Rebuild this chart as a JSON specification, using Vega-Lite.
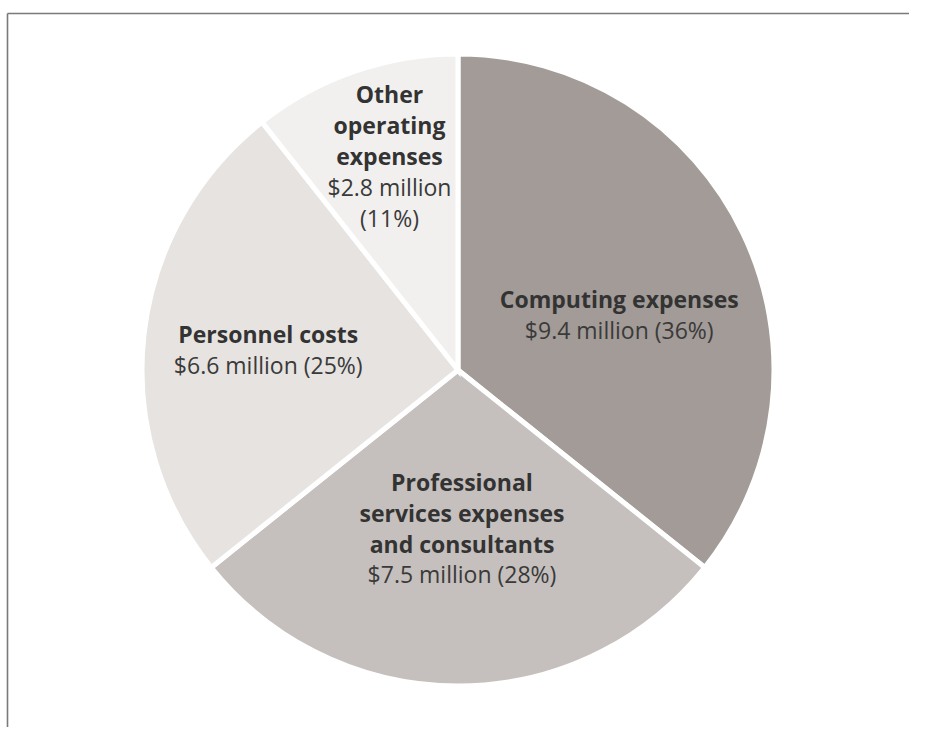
{
  "$schema": "https://vega.github.io/schema/vega-lite/v6.json",
  "width": 902,
  "height": 714,
  "autosize": {"type": "none"},
  "padding": {"left": 7, "top": 13, "right": 0, "bottom": 0},
  "background": "white",
  "config": {
    "view": {"stroke": null},
    "text": {"font": "Open Sans", "fontSize": 23, "align": "center", "baseline": "alphabetic", "lineHeight": 31}
  },
  "data": {
    "values": [
      {"category": "Computing expenses", "value": 9.4, "rank": 1, "title": ["Computing expenses"], "detail": ["$9.4 million (36%)"]},
      {"category": "Professional services expenses and consultants", "value": 7.5, "rank": 2, "title": ["Professional", "services expenses", "and consultants"], "detail": ["$7.5 million (28%)"]},
      {"category": "Personnel costs", "value": 6.6, "rank": 3, "title": ["Personnel costs"], "detail": ["$6.6 million (25%)"]},
      {"category": "Other operating expenses", "value": 2.8, "rank": 4, "title": ["Other", "operating", "expenses"], "detail": ["$2.8 million", "(11%)"]}
    ]
  },
  "layer": [
    {
      "mark": {"type": "point", "opacity": 0},
      "encoding": {
        "x": {"field": "value", "type": "quantitative", "axis": {"orient": "top", "domain": true, "domainColor": "#7a7a7a", "domainWidth": 1.6, "ticks": false, "labels": false, "grid": false, "title": null}},
        "y": {"field": "value", "type": "quantitative", "axis": {"orient": "left", "domain": true, "domainColor": "#7a7a7a", "domainWidth": 1.6, "ticks": false, "labels": false, "grid": false, "title": null}}
      }
    },
    {
      "mark": {"type": "arc", "outerRadius": 316, "stroke": "white", "strokeWidth": 5},
      "encoding": {
        "theta": {"field": "value", "type": "quantitative", "stack": true},
        "order": {"field": "rank", "type": "quantitative"},
        "color": {
          "field": "category", "type": "nominal", "legend": null,
          "scale": {
            "domain": ["Computing expenses", "Professional services expenses and consultants", "Personnel costs", "Other operating expenses"],
            "range": ["#a29b97", "#c5c0bd", "#e6e3e1", "#f1f0ee"]
          }
        }
      }
    },
    {
      "mark": {"type": "text", "radius": 180, "dx": -1, "dy": 16, "fontWeight": "bold", "color": "#333333"},
      "encoding": {
        "theta": {"field": "value", "type": "quantitative", "stack": true},
        "order": {"field": "rank", "type": "quantitative"},
        "detail": {"field": "category"},
        "text": {"condition": {"test": "datum.category === 'Computing expenses'", "field": "title"}, "value": ""}
      }
    },
    {
      "mark": {"type": "text", "radius": 180, "dx": -1, "dy": 47, "color": "#3a3a3a"},
      "encoding": {
        "theta": {"field": "value", "type": "quantitative", "stack": true},
        "order": {"field": "rank", "type": "quantitative"},
        "detail": {"field": "category"},
        "text": {"condition": {"test": "datum.category === 'Computing expenses'", "field": "detail"}, "value": ""}
      }
    },
    {
      "mark": {"type": "text", "radius": 160, "dx": 4, "dy": -39, "fontWeight": "bold", "color": "#333333"},
      "encoding": {
        "theta": {"field": "value", "type": "quantitative", "stack": true},
        "order": {"field": "rank", "type": "quantitative"},
        "detail": {"field": "category"},
        "text": {"condition": {"test": "datum.category === 'Professional services expenses and consultants'", "field": "title"}, "value": ""}
      }
    },
    {
      "mark": {"type": "text", "radius": 160, "dx": 4, "dy": 53, "color": "#3a3a3a"},
      "encoding": {
        "theta": {"field": "value", "type": "quantitative", "stack": true},
        "order": {"field": "rank", "type": "quantitative"},
        "detail": {"field": "category"},
        "text": {"condition": {"test": "datum.category === 'Professional services expenses and consultants'", "field": "detail"}, "value": ""}
      }
    },
    {
      "mark": {"type": "text", "radius": 190, "dx": -1, "dy": -5, "fontWeight": "bold", "color": "#333333"},
      "encoding": {
        "theta": {"field": "value", "type": "quantitative", "stack": true},
        "order": {"field": "rank", "type": "quantitative"},
        "detail": {"field": "category"},
        "text": {"condition": {"test": "datum.category === 'Personnel costs'", "field": "title"}, "value": ""}
      }
    },
    {
      "mark": {"type": "text", "radius": 190, "dx": -1, "dy": 26, "color": "#3a3a3a"},
      "encoding": {
        "theta": {"field": "value", "type": "quantitative", "stack": true},
        "order": {"field": "rank", "type": "quantitative"},
        "detail": {"field": "category"},
        "text": {"condition": {"test": "datum.category === 'Personnel costs'", "field": "detail"}, "value": ""}
      }
    },
    {
      "mark": {"type": "text", "radius": 230, "dx": 7, "dy": -50, "fontWeight": "bold", "color": "#333333"},
      "encoding": {
        "theta": {"field": "value", "type": "quantitative", "stack": true},
        "order": {"field": "rank", "type": "quantitative"},
        "detail": {"field": "category"},
        "text": {"condition": {"test": "datum.category === 'Other operating expenses'", "field": "title"}, "value": ""}
      }
    },
    {
      "mark": {"type": "text", "radius": 230, "dx": 7, "dy": 43, "color": "#3a3a3a"},
      "encoding": {
        "theta": {"field": "value", "type": "quantitative", "stack": true},
        "order": {"field": "rank", "type": "quantitative"},
        "detail": {"field": "category"},
        "text": {"condition": {"test": "datum.category === 'Other operating expenses'", "field": "detail"}, "value": ""}
      }
    }
  ]
}
